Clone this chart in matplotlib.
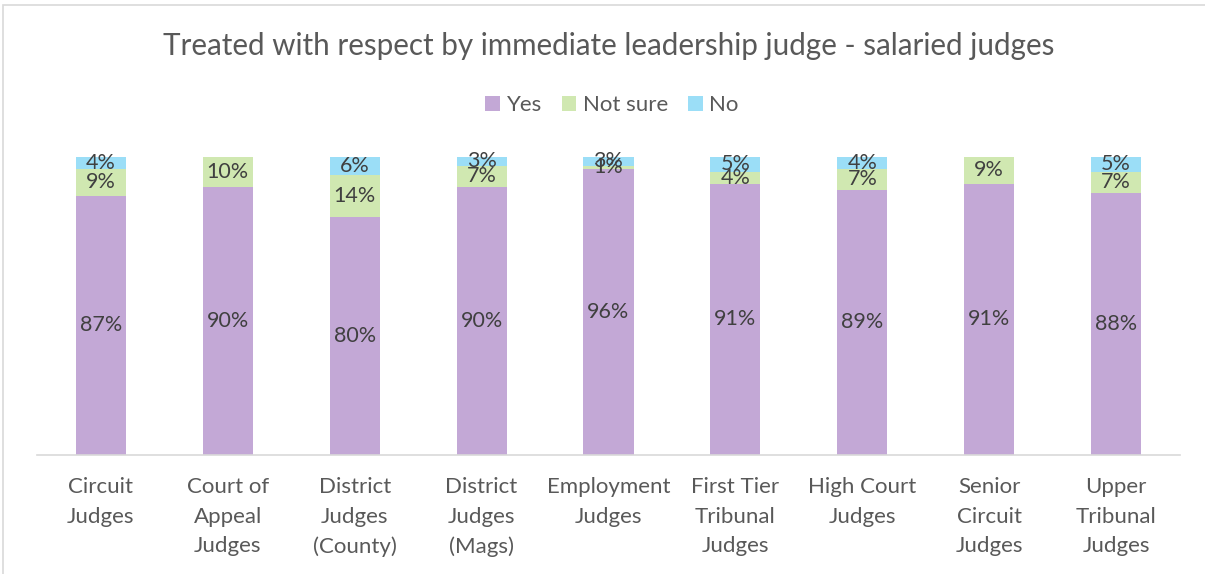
import matplotlib
matplotlib.use("Agg")
import matplotlib.pyplot as plt
from matplotlib.patches import Rectangle
import numpy as np

plt.rcParams['font.family'] = ['Lato', 'DejaVu Sans']

categories = ["Circuit\nJudges", "Court of\nAppeal\nJudges", "District\nJudges\n(County)",
              "District\nJudges\n(Mags)", "Employment\nJudges", "First Tier\nTribunal\nJudges",
              "High Court\nJudges", "Senior\nCircuit\nJudges", "Upper\nTribunal\nJudges"]
yes = [87, 90, 80, 90, 96, 91, 89, 91, 88]
not_sure = [9, 10, 14, 7, 1, 4, 7, 9, 7]
no = [4, 0, 6, 3, 3, 5, 4, 0, 5]

series = [("Yes", yes, "#C3A8D6"), ("Not sure", not_sure, "#D0E8B1"), ("No", no, "#9BDEF7")]
label_color = "#404040"

W, H = 1205, 574
fig = plt.figure(figsize=(W / 100, H / 100), dpi=100)

# chart frame
fig.patches.append(Rectangle((3 / W, -0.1), 1.2, 1 - 5 / H + 0.1, transform=fig.transFigure,
                             fill=False, edgecolor="#D9D9D9", linewidth=1.2))

ax = fig.add_axes([37 / W, 1 - 455 / H, (1180 - 37) / W, (455 - 157) / H])
x = np.arange(len(categories))
bottom = np.zeros(len(categories))
handles = []
for name, vals, col in series:
    vals = np.array(vals, dtype=float)
    bars = ax.bar(x, vals, bottom=bottom, width=0.394, color=col, label=name)
    handles.append(bars)
    for xi, b, v in zip(x, bottom, vals):
        if v > 0:
            ax.text(xi, b + v / 2, f"{int(v)}%", ha="center", va="center",
                    fontsize=15.5, color=label_color)
    bottom += vals

ax.set_xlim(-0.503, len(categories) - 0.497)
ax.set_ylim(0, 100)
for s in ["top", "right", "left"]:
    ax.spines[s].set_visible(False)
ax.spines["bottom"].set_color("#D9D9D9")
ax.spines["bottom"].set_linewidth(1.2)
ax.set_yticks([])
ax.set_xticks(x)
ax.set_xticklabels(categories, fontsize=16, color="#595959", linespacing=1.6)
ax.tick_params(axis="x", length=0, pad=16)

fig.text(609 / W, 1 - 46 / H, "Treated with respect by immediate leadership judge - salaried judges",
         ha="center", va="center", fontsize=21.3, color="#595959")

fig.legend(handles=handles, labels=[s[0] for s in series], loc="center",
           bbox_to_anchor=(612 / W, 1 - 105 / H), ncol=3, frameon=False, fontsize=16,
           labelcolor="#595959", handlelength=0.65, handleheight=0.65, handletextpad=0.3,
           columnspacing=0.9)

fig.savefig("out.png", dpi=100)
